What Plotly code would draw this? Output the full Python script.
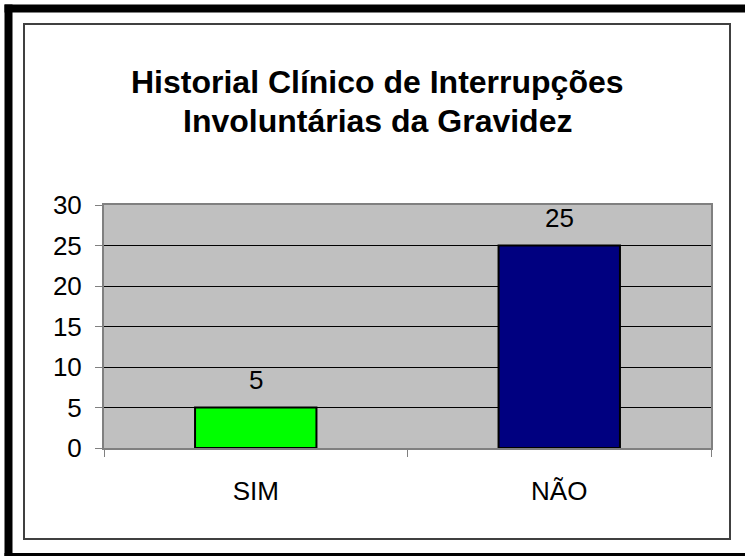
import plotly.graph_objects as go

categories = ["SIM", "NÃO"]
values = [5, 25]
bar_colors = ["#00FF00", "#000080"]
y_ticks = [0, 5, 10, 15, 20, 25, 30]
title_lines = ["Historial Clínico de Interrupções", "Involuntárias da Gravidez"]

W_FIG, H_FIG = 745, 556
L, R, T, B = 104, 711, 205, 448
PW, PH = R - L, B - T

def px_x(p):
    return (p - L) / PW

def px_y(p):
    return (B - p) / PH

FONT = "Arial, 'Liberation Sans', sans-serif"

fig = go.Figure()
fig.add_trace(go.Bar(
    x=categories, y=values,
    marker=dict(color=bar_colors, line=dict(color="black", width=2)),
    width=0.4,
    hoverinfo="skip",
))

annotations = []
for c, v in zip(categories, values):
    annotations.append(dict(x=c, y=v, xref="x", yref="y", text=str(v),
                            showarrow=False, yanchor="middle", yshift=28,
                            font=dict(family=FONT, size=26, color="black")))
annotations.append(dict(x=px_x(377), y=px_y(82), xref="paper", yref="paper",
                        text="<b>%s</b>" % title_lines[0], showarrow=False,
                        xanchor="center", yanchor="middle",
                        font=dict(family=FONT, size=32, color="black")))
annotations.append(dict(x=px_x(377), y=px_y(121), xref="paper", yref="paper",
                        text="<b>%s</b>" % title_lines[1], showarrow=False,
                        xanchor="center", yanchor="middle",
                        font=dict(family=FONT, size=32, color="black")))

frame = dict(color="black", width=8)
shapes = [
    dict(type="rect", xref="paper", yref="paper",
         x0=px_x(24), x1=px_x(730), y0=px_y(24), y1=px_y(539),
         line=dict(color="#404040", width=2), fillcolor="rgba(0,0,0,0)", layer="above"),
    dict(type="line", xref="paper", yref="paper",
         x0=px_x(8.5), x1=px_x(8.5), y0=px_y(4.5), y1=px_y(561), line=frame),
    dict(type="line", xref="paper", yref="paper",
         x0=px_x(4.5), x1=px_x(745), y0=px_y(8.5), y1=px_y(8.5), line=frame),
    dict(type="line", xref="paper", yref="paper",
         x0=px_x(4.5), x1=px_x(745), y0=px_y(557), y1=px_y(557), line=frame),
]

fig.update_layout(
    width=W_FIG, height=H_FIG,
    margin=dict(l=L, r=W_FIG - R, t=T, b=H_FIG - B, pad=0),
    paper_bgcolor="white", plot_bgcolor="#C0C0C0",
    showlegend=False, bargap=0.6,
    annotations=annotations, shapes=shapes,
    font=dict(family=FONT, color="black"),
)
fig.update_xaxes(
    type="category", tickson="boundaries", ticks="outside", ticklen=7,
    tickcolor="#808080", tickwidth=1,
    showline=True, linecolor="#808080", linewidth=2, mirror=True,
    showgrid=False, tickfont=dict(family=FONT, size=26, color="black"),
    ticklabelstandoff=19,
)
fig.update_yaxes(
    range=[0, 30], tickvals=y_ticks, ticks="outside", ticklen=7,
    tickcolor="#808080", tickwidth=1,
    showline=True, linecolor="#808080", linewidth=2, mirror=True,
    showgrid=True, gridcolor="black", gridwidth=1, zeroline=False,
    tickfont=dict(family=FONT, size=26, color="black"),
    ticklabelstandoff=8,
)

fig.write_html(
    "out.html",
    config={"displayModeBar": False},
    post_script="document.body.style.margin='0';document.body.style.overflow='hidden';",
)
